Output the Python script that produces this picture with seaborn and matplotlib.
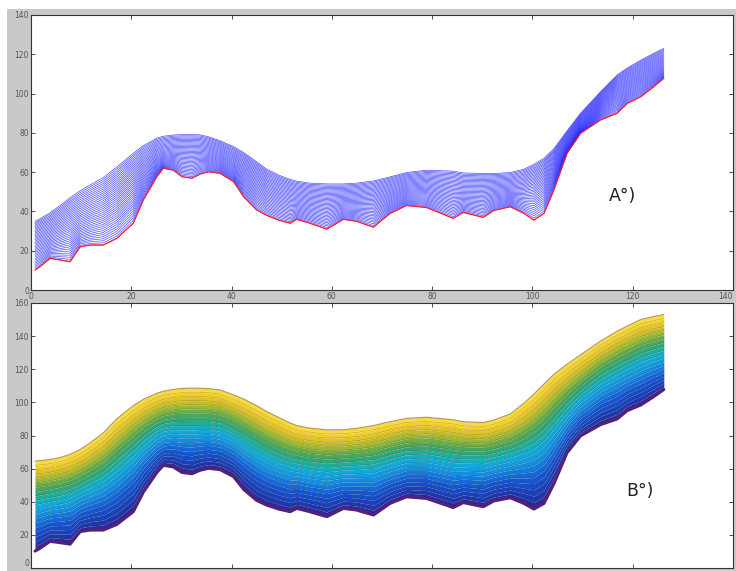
import numpy as np
import pandas as pd
import matplotlib
matplotlib.use("Agg")
import matplotlib.pyplot as plt
import seaborn as sns
from matplotlib.colors import LinearSegmentedColormap
from matplotlib.patches import Rectangle

# ---------------- data ----------------
x_pos = [0.8, 1.8, 3.8, 5.8, 7.8, 9.8, 11.8, 14.4, 17.1, 20.4, 22.4, 25.1, 26.4,
         28.4, 30.1, 32.1, 33.7, 35.4, 37.7, 40.4, 42.4, 45.0, 47.0, 49.5, 51.7,
         53.0, 55.6, 59.0, 62.3, 64.9, 68.3, 71.6, 74.9, 78.9, 84.2, 86.2, 90.2,
         92.3, 95.6, 98.3, 100.3, 102.3, 104.3, 106.9, 109.6, 113.6, 116.9, 118.9,
         121.6, 124.2, 126.2]
# bottom boundary (terrain) - red line in A, purple edge in B
terrain = [10.2, 11.9, 16.1, 15.3, 14.4, 22.0, 22.9, 22.9, 26.3, 34.0, 45.8, 57.7, 62.0,
           61.0, 57.7, 56.9, 59.0, 60.2, 59.4, 55.2, 47.5, 40.8, 38.0, 35.5, 34.0,
           36.0, 34.0, 31.0, 36.0, 35.0, 32.0, 39.0, 43.0, 42.0, 36.5, 39.5, 37.0,
           40.5, 42.4, 39.0, 35.6, 39.0, 51.0, 69.6, 79.8, 86.6, 90.0, 95.0,
           98.4, 103.5, 107.8]
# upper boundary of panel A mesh
top_a = [35.0, 36.3, 39.3, 43.0, 47.0, 50.5, 53.5, 57.2, 62.6, 69.6, 73.5, 77.3, 78.3,
         78.9, 79.1, 79.1, 79.0, 78.0, 76.0, 73.0, 70.0, 65.3, 61.5, 58.4, 56.3,
         55.4, 54.4, 54.0, 54.0, 54.4, 55.5, 57.6, 59.8, 61.0, 60.5, 59.6, 59.3,
         59.3, 59.8, 61.5, 64.0, 67.0, 72.0, 81.0, 90.0, 101.0, 109.5, 113.0,
         117.0, 120.5, 123.0]
# upper boundary of panel B layers
top_b = [64.5, 64.8, 65.5, 66.7, 68.6, 71.5, 75.5, 81.5, 90.0, 98.0, 101.8, 105.5, 106.7,
         107.8, 108.4, 108.6, 108.5, 108.3, 107.5, 104.5, 102.0, 98.0, 94.4, 90.7, 87.5,
         86.0, 84.4, 83.4, 83.5, 84.3, 86.0, 88.3, 90.3, 91.0, 89.5, 88.3, 87.8,
         89.3, 93.0, 99.5, 105.0, 111.0, 117.0, 123.0, 128.7, 137.0, 143.0, 146.0,
         150.0, 151.8, 153.0]
x_ticks = [0, 20, 40, 60, 80, 100, 120, 140]
y_ticks_a = [0, 20, 40, 60, 80, 100, 120, 140]
y_ticks_b = [0, 20, 40, 60, 80, 100, 120, 140, 160]
panel_labels = ["A°)", "B°)"]
n_lines_a = 34
n_bands_b = 20

# ---------------- style ----------------
sns.set_style("ticks")
plt.rcParams["font.family"] = ["DejaVu Sans"]

W, H = 736, 571
fig = plt.figure(figsize=(W / 100, H / 100), dpi=100, facecolor="white")
fig.add_artist(Rectangle((7 / W, 0), 1, 1 - 9 / H, transform=fig.transFigure,
                         facecolor="#c9c9c9", edgecolor="none", zorder=-10))

ax1 = fig.add_axes([31 / W, 1 - 290 / H, 702 / W, 275 / H])
ax2 = fig.add_axes([31 / W, 1 - 568 / H, 702 / W, 265 / H])

x = np.array(x_pos)
bot = np.array(terrain)
ta = np.array(top_a)
tb = np.array(top_b)

# smooth version of the terrain: the mesh/layers relax from the terrain shape
w = np.exp(-((x[:, None] - x[None, :]) ** 2) / (2 * 3.0 ** 2))
bot_s = (w @ bot) / w.sum(axis=1)


def layer(top, t, p=3.0):
    return bot_s + t * (top - bot_s) + (1 - t) ** p * (bot - bot_s)


# ---------------- panel A: mesh lines ----------------
frames = []
for i in range(n_lines_a + 1):
    t = i / n_lines_a
    frames.append(pd.DataFrame({"x": x, "y": layer(ta, t), "layer": i}))
df_a = pd.concat(frames, ignore_index=True)
sns.lineplot(data=df_a, x="x", y="y", units="layer", estimator=None, sort=False,
             color="#2020ff", lw=0.5, alpha=0.8, ax=ax1, legend=False)
sns.lineplot(x=x, y=bot, estimator=None, sort=False, color="#ff2020", lw=0.9, ax=ax1)
ax1.text(118, 48, panel_labels[0], fontsize=12.5, ha="center", va="center", color="#222222")

# ---------------- panel B: filled layers ----------------
band_hex = ["#2b2a96", "#1a3cb4", "#1848c4", "#1656d0", "#1570dc", "#178ade",
            "#13a0de", "#10aed4", "#1fae9e", "#35a672", "#5aaa4c", "#95b636",
            "#cabd28", "#eec825", "#f7dc3a"]
cmap = LinearSegmentedColormap.from_list("parula_like", band_hex)
levels = np.linspace(0.0, 1.0, n_bands_b)
for k in range(n_bands_b):
    lo = layer(tb, k / n_bands_b)
    hi = layer(tb, (k + 1) / n_bands_b)
    ax2.fill_between(x, lo, hi, color=cmap(levels[k]), lw=0)
for k in range(1, n_bands_b):
    ax2.plot(x, layer(tb, k / n_bands_b), color="#3a3a3a", lw=0.35, alpha=0.35)
ax2.plot(x, tb, color="#b89a60", lw=0.9)
ax2.plot(x, bot, color="#55207a", lw=2.2)
ax2.text(121.5, 46.2, panel_labels[1], fontsize=12.5, ha="center", va="center", color="#222222")

# ---------------- axes cosmetics ----------------
for ax, yt in ((ax1, y_ticks_a), (ax2, y_ticks_b)):
    ax.set_facecolor("white")
    ax.set_xlim(0, 140)
    ax.set_ylim(yt[0], yt[-1])
    ax.set_xticks(x_ticks)
    ax.set_yticks(yt)
    ax.set_xlabel("")
    ax.set_ylabel("")
    ax.tick_params(direction="in", length=3, width=0.6, top=True, right=True,
                   labelsize=5.5, labelcolor="#555555", color="#333333", pad=1.5)
    for sp in ax.spines.values():
        sp.set_visible(True)
        sp.set_color("#333333")
        sp.set_linewidth(0.8)
ax2.tick_params(labelbottom=False)
ax1.get_xticklabels()[-1].set_horizontalalignment("right")
ax2.get_yticklabels()[0].set_verticalalignment("bottom")

fig.savefig("out.png", dpi=100, facecolor=fig.get_facecolor())
